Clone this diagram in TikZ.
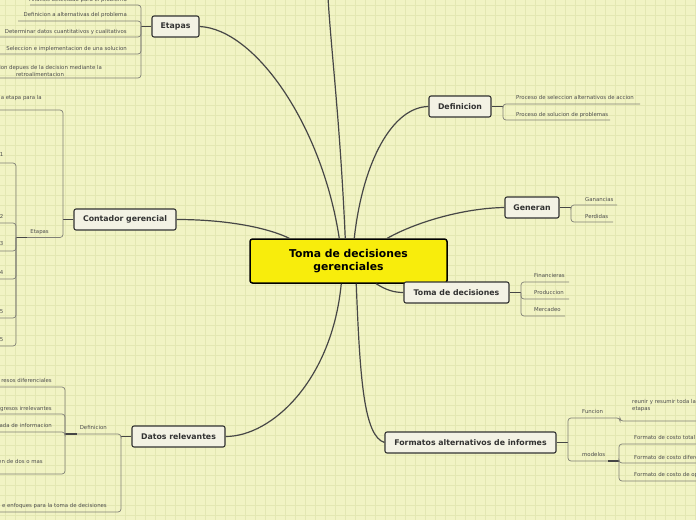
\documentclass[tikz,border=0pt]{standalone}
\usepackage{fontspec}
\setmainfont{DejaVu Sans}
\usetikzlibrary{calc}
\definecolor{bgc}{RGB}{241,243,196}
\definecolor{gridc}{RGB}{227,231,178}
\definecolor{boxfill}{RGB}{243,242,228}
\definecolor{boxdraw}{RGB}{50,50,50}
\definecolor{centralfill}{RGB}{248,237,12}
\definecolor{mainline}{RGB}{70,70,70}
\definecolor{subline}{RGB}{128,128,118}
\definecolor{smalltxt}{RGB}{78,78,78}
\tikzset{
  mainbox/.style={draw=boxdraw, line width=1.1pt, fill=boxfill, rounded corners=2pt,
    font=\bfseries\fontsize{7.8}{9}\selectfont, text=boxdraw, inner sep=0pt, minimum height=21pt},
  centralbox/.style={draw=black, line width=1.5pt, fill=centralfill, rounded corners=2.5pt,
    font=\bfseries\fontsize{10.8}{12.5}\selectfont, text=black, align=center, inner sep=0pt,
    minimum width=197pt, minimum height=44pt},
  small/.style={font=\fontsize{5.4}{7}\selectfont, text=smalltxt, inner sep=0pt},
  conn/.style={draw=mainline, line width=1.2pt},
  junc/.style={draw=mainline, line width=1.3pt},
  branch/.style={draw=subline, line width=0.7pt, rounded corners=3pt},
  gridline/.style={draw=gridc, line width=0.5pt}
}
% left child: name, text, right x, baseline y, underline y, start x, spine x, junction y
\newcommand\lchild[8]{%
  \node[small, anchor=base east] (#1) at (#3,#4) {#2};
  \coordinate (#1-s) at (#6,#5);
  \draw[branch] (#1-s) -- (#7,#5) -- (#7,#8);
}
% right child: name, text, left x, baseline y, underline y, end x, spine x, junction y
\newcommand\rchild[8]{%
  \node[small, anchor=base west] (#1) at (#3,#4) {#2};
  \coordinate (#1-e) at (#6,#5);
  \draw[branch] (#7,#8) -- (#7,#5) -- (#1-e);
}
\begin{document}
\begin{tikzpicture}[x=1pt,y=-1pt]
\useasboundingbox (0,0) rectangle (696,520);
\clip (0,0) rectangle (696,520);
\fill[bgc] (0,0) rectangle (696,520);
\foreach \i in {5,15,...,695} \draw[gridline] (\i,0) -- (\i,520);
\foreach \j in {5,15,...,515} \draw[gridline] (0,\j) -- (696,\j);

% main nodes
\node[centralbox] (C) at (348.5,261) {Toma de decisiones\\gerenciales};
\node[mainbox, minimum width=47pt] (Etapas) at (175.5,26.5) {Etapas};
\node[mainbox, minimum width=62pt] (Def) at (460,106.5) {Definicion};
\node[mainbox, minimum width=54pt] (Gen) at (532,207.5) {Generan};
\node[mainbox, minimum width=102pt] (Cont) at (125,219.5) {Contador gerencial};
\node[mainbox, minimum width=105pt] (Toma) at (456.5,292.5) {Toma de decisiones};
\node[mainbox, minimum width=93pt] (Datos) at (178.5,436.5) {Datos relevantes};
\node[mainbox, minimum width=171pt] (Form) at (470.5,442.5) {Formatos alternativos de informes};
\coordinate (topend) at (328,-3);

% central connectors
\draw[conn] ($(C.north west)+(90,0)$) .. controls (322,125) and (255,29) .. (Etapas.east);
\draw[conn] ($(C.north west)+(96,0)$) .. controls (340,120) and (331,50) .. (topend);
\draw[conn] ($(C.north west)+(105,0)$) .. controls (363,160) and (393,107) .. (Def.west);
\draw[conn] ($(C.north west)+(138,0)$) .. controls (420,220) and (468,208) .. (Gen.west);
\draw[conn] ($(C.north west)+(40,0)$) .. controls (268,228) and (228,219.5) .. (Cont.east);
\draw[conn] ($(C.south west)+(127,0)$) .. controls (386,290) and (394,292.5) .. (Toma.west);
\draw[conn] ($(C.south west)+(107,0)$) .. controls (360,380) and (364,436) .. (Form.west);
\draw[conn] ($(C.south west)+(92,0)$) .. controls (332,380) and (272,436.5) .. (Datos.east);

% Etapas group
\draw[junc] (Etapas.west) -- (141,26.5);
\lchild{e1}{Analisis detectado para el problema}{127}{1.6}{5}{30}{141}{26.5}
\lchild{e2}{Definicion a alternativas del problema}{127}{16.6}{21}{18}{141}{26.5}
\lchild{e3}{Determinar datos cuantitativos y cualitativos}{127}{33.6}{37}{-3}{141}{26.5}
\lchild{e4}{Seleccion e implementacion de una solucion}{127}{50.6}{54}{-3}{141}{26.5}
\node[small, align=center, anchor=south] (e5) at (40,76.3) {Evaluacion depues de la decision mediante la\\retroalimentacion};
\coordinate (e5-s) at (-3,78);
\draw[branch] (e5-s) -- (141,78) -- (141,26.5);

% Contador gerencial group
\draw[junc] (Cont.west) -- (63,219.5);
\lchild{c1}{a etapa para la}{42}{99.6}{110}{-3}{63}{219.5}
\lchild{c2}{Etapas}{49}{233.3}{237.5}{27}{63}{219.5}
\coordinate (c2j) at (16,237.5);
\draw[junc] (c2j) -- (c2-s);
\lchild{s1}{1}{3.5}{156.6}{163}{-3}{16}{237.5}
\lchild{s2}{2}{3.5}{218.6}{223}{-3}{16}{237.5}
\lchild{s3}{3}{3.5}{245.6}{251}{-3}{16}{237.5}
\lchild{s4}{4}{3.5}{274.6}{279}{-3}{16}{237.5}
\lchild{s5}{5}{3.5}{313.6}{318}{-3}{16}{237.5}
\lchild{s6}{5}{3.5}{341.6}{346}{-3}{16}{237.5}

% Datos relevantes group
\draw[junc] (Datos.west) -- (121,436.5);
\lchild{d1}{Definicion}{107}{429.6}{434}{77}{121}{436.5}
\lchild{d2}{e enfoques para la toma de decisiones}{107}{507.6}{512}{-3}{121}{436.5}
\coordinate (d1j) at (65,434);
\draw[junc] (d1j) -- (d1-s);
\lchild{f1}{resos diferenciales}{52}{382.6}{387}{-3}{65}{434}
\lchild{f2}{gresos irrelevantes}{52}{410.6}{414}{-3}{65}{434}
\lchild{f3}{ada de informacion}{52}{427.6}{432}{-3}{65}{434}
\lchild{f4}{en de dos o mas}{43}{463.6}{474}{-3}{65}{434}

% Definicion group
\draw[junc] (Def.east) -- (503,106.5);
\rchild{p1}{Proceso de seleccion alternativos de accion}{516}{99.6}{104}{640}{503}{106.5}
\rchild{p2}{Proceso de solucion de problemas}{516}{116.6}{120}{610}{503}{106.5}

% Generan group
\draw[junc] (Gen.east) -- (571,207.5);
\rchild{g1}{Ganancias}{585}{201.6}{205}{617}{571}{207.5}
\rchild{g2}{Perdidas}{585}{218.6}{222}{613}{571}{207.5}

% Toma de decisiones group
\draw[junc] (Toma.east) -- (521,292.5);
\rchild{t1}{Financieras}{534}{277.6}{282}{569}{521}{292.5}
\rchild{t2}{Produccion}{534}{294.6}{299}{569}{521}{292.5}
\rchild{t3}{Mercadeo}{534}{311.6}{316}{565}{521}{292.5}

% Formatos group
\draw[junc] (Form.east) -- (568,442.5);
\rchild{m1}{Funcion}{582}{413.6}{418}{616}{568}{442.5}
\rchild{m2}{modelos}{582}{456.6}{461}{608}{568}{442.5}
\node[small, align=left, anchor=base west] (r1) at (632,410.6) {reunir y resumir toda la\\etapas};
\coordinate (r1-e) at (700,421);
\draw[branch] (m1-e) -- (620,418) -- (620,421) -- (r1-e);
\coordinate (m2j) at (619,461);
\draw[junc] (m2-e) -- (m2j);
\rchild{o1}{Formato de costo total}{634}{439.6}{444}{700}{619}{461}
\rchild{o2}{Formato de costo diferencial}{634}{459.6}{463}{700}{619}{461}
\rchild{o3}{Formato de costo de oportunidad}{634}{476.6}{481}{700}{619}{461}
\end{tikzpicture}
\end{document}
